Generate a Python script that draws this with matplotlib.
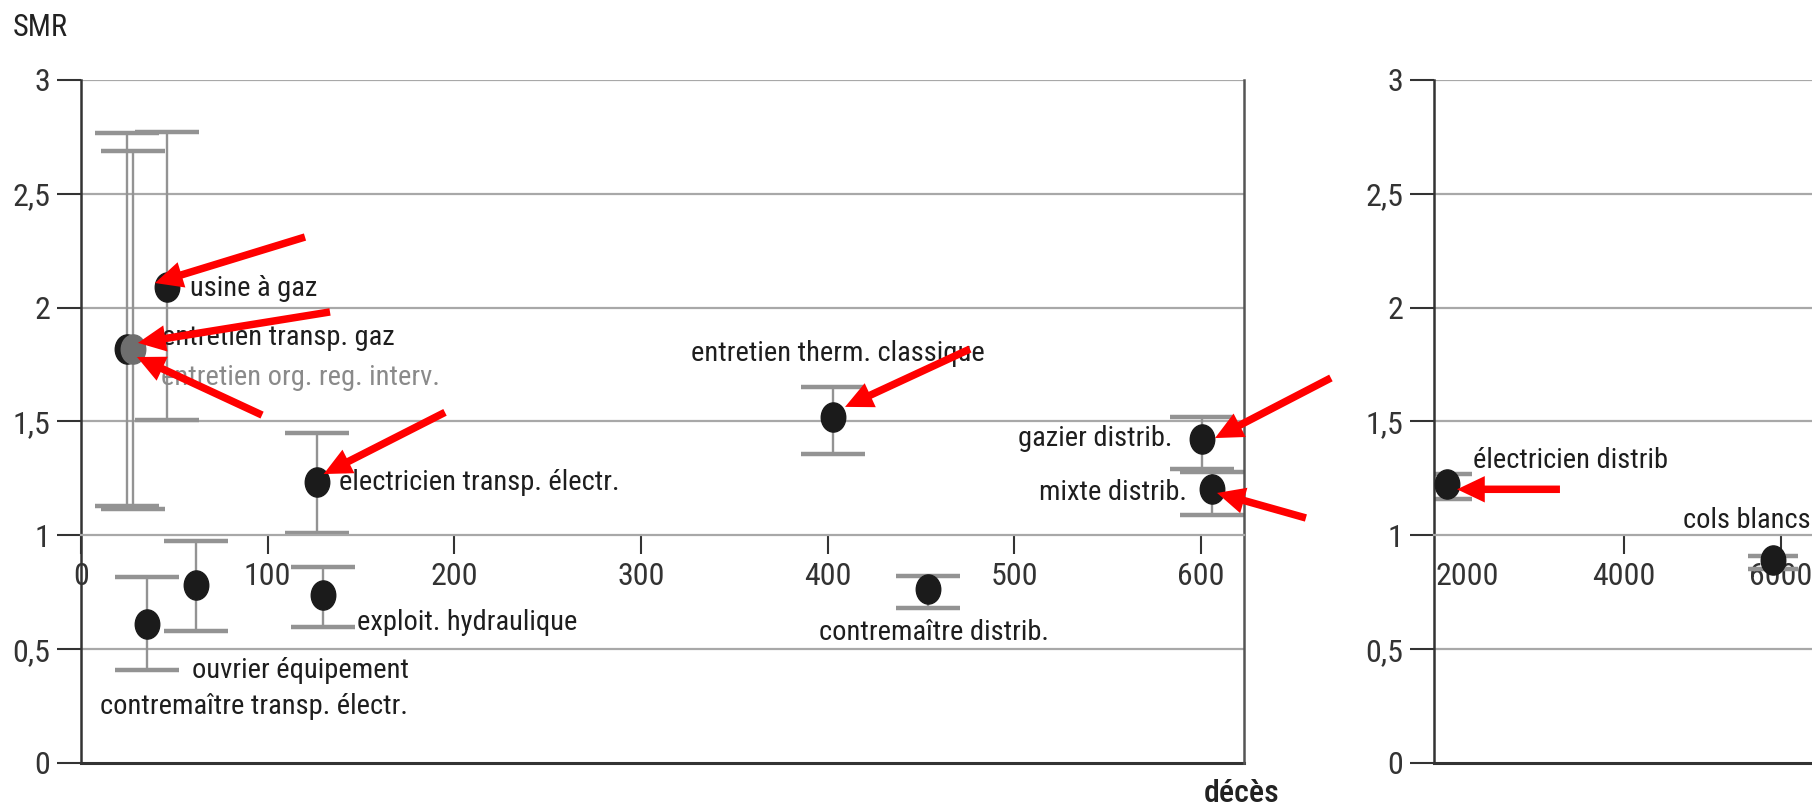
import matplotlib
matplotlib.use("Agg")
import matplotlib.pyplot as plt
from matplotlib import font_manager
from matplotlib.markers import MarkerStyle
from matplotlib.transforms import Affine2D

installed = {f.name for f in font_manager.fontManager.ttflist}
narrow = [f for f in ["Roboto Condensed", "Open Sans Condensed", "Liberation Sans Narrow",
                      "Arial Narrow", "Roboto"] if f in installed]
plt.rcParams["font.family"] = narrow + ["DejaVu Sans"]

# ---- left panel : occupations with few deaths ----
names = [
    "usine à gaz", "entretien transp. gaz", "entretien org. reg. interv.",
    "électricien transp. électr.", "ouvrier équipement", "contremaître transp. électr.",
    "exploit. hydraulique", "entretien therm. classique", "contremaître distrib.",
    "gazier distrib.", "mixte distrib.",
]
deaths = [46, 24.8, 27.8, 126.6, 35.3, 61.5, 129.7, 403, 454, 600.3, 605.8]
smr = [2.09, 1.82, 1.82, 1.235, 0.61, 0.78, 0.738, 1.52, 0.764, 1.423, 1.203]
ci_low = [1.506, 1.128, 1.116, 1.01, 0.408, 0.58, 0.598, 1.357, 0.68, 1.29, 1.09]
ci_high = [2.77, 2.767, 2.69, 1.449, 0.817, 0.975, 0.862, 1.65, 0.82, 1.52, 1.28]

# ---- right panel : large groups ----
names_r = ["électricien distrib", "cols blancs"]
deaths_r = [1745, 5900]
smr_r = [1.224, 0.89]
ci_low_r = [1.16, 0.85]
ci_high_r = [1.27, 0.91]

y_ticks = [0, 0.5, 1, 1.5, 2, 2.5, 3]
y_ticklabels = ["0", "0,5", "1", "1,5", "2", "2,5", "3"]
x_ticks = [0, 100, 200, 300, 400, 500, 600]
x_ticks_r = [2000, 4000, 6000]

# label placement (data coords) and alignment
label_x = [58.4, 43.4, 43.1, 138.2, 59.5, 10.2, 147.9, 327, 395.6, 584.5, 592.5]
label_y = [2.086, 1.867, 1.691, 1.234, 0.408, 0.246, 0.615, 1.80, 0.571, 1.427, 1.186]
label_ha = ["left"] * 9 + ["right", "right"]
label_col = ["#1e1e1e", "#1e1e1e", "#8a8a8a"] + ["#1e1e1e"] * 8
label_x_r = [2077, 4752]
label_y_r = [1.33, 1.066]

# red arrows : (tail, tip) in data coords
arrows = [
    ((120.0, 2.310), (39.6, 2.108)),
    ((133.4, 1.981), (30.5, 1.845)),
    ((97.0, 1.528), (30.0, 1.783)),
    ((195.0, 1.540), (130.0, 1.269)),
    ((476.2, 1.818), (409.3, 1.564)),
    ((669.6, 1.691), (607.5, 1.427)),
    ((656.2, 1.076), (608.6, 1.186)),
]
arrows_r = [((3185, 1.202), (1873, 1.202))]

GRID = "#a8a8a8"
DARK = "#333333"
BAR = "#939393"
TICK_FS = 23
LABEL_FS = 20.5

marker = MarkerStyle("o", transform=Affine2D().scale(0.84, 1.0))
arrow_style = "simple,head_length=1.0,head_width=0.95,tail_width=0.27"


def style_axes(ax, xlim):
    ax.set_xlim(*xlim)
    ax.set_ylim(0, 3)
    ax.set_yticks(y_ticks)
    ax.set_yticklabels(y_ticklabels)
    for y in [0.5, 1.5, 2, 2.5, 3]:
        ax.axhline(y, color=GRID, lw=1.6, zorder=0)
    ax.axhline(0, color=DARK, lw=2.2, zorder=1, clip_on=False)
    ax.spines["bottom"].set_position(("data", 1))
    ax.spines["bottom"].set_color(GRID)
    ax.spines["bottom"].set_linewidth(1.6)
    ax.spines["top"].set_visible(False)
    ax.spines["left"].set_color(DARK)
    ax.spines["left"].set_linewidth(1.8)
    ax.tick_params(axis="y", direction="out", length=17, width=1.5, color=DARK,
                   labelsize=TICK_FS, labelcolor=DARK, pad=5)
    ax.tick_params(axis="x", direction="out", length=14, width=1.5, color=DARK,
                   labelsize=TICK_FS, labelcolor=DARK, pad=5)


def draw_points(ax, xs, ys, lo, hi, colors, capsize):
    yerr = [[y - l for y, l in zip(ys, lo)], [h - y for y, h in zip(ys, hi)]]
    ax.errorbar(xs, ys, yerr=yerr, fmt="none", ecolor=BAR, elinewidth=1.7,
                capsize=capsize, capthick=3.2, zorder=2)
    for x, y, c in zip(xs, ys, colors):
        ax.plot(x, y, linestyle="none", marker=marker, markersize=21,
                color=c, zorder=3)


fig = plt.figure(figsize=(18.12, 8.09), dpi=100)

ax = fig.add_axes([0.0447, 0.0569, 0.6418, 0.8443])
style_axes(ax, (0, 623))
ax.set_xticks(x_ticks)
ax.spines["right"].set_color("#555555")
ax.spines["right"].set_linewidth(1.8)

point_colors = ["#1b1b1b", "#1b1b1b", "#6e6e6e"] + ["#1b1b1b"] * 8
draw_points(ax, deaths, smr, ci_low, ci_high, point_colors, 23)

for name, lx, ly, ha, col in zip(names, label_x, label_y, label_ha, label_col):
    ax.text(lx, ly, name, ha=ha, va="center", fontsize=LABEL_FS, color=col, zorder=4)

for tail, tip in arrows:
    ax.annotate("", xy=tip, xytext=tail, annotation_clip=False, zorder=5,
                arrowprops=dict(arrowstyle=arrow_style, color="red", lw=0,
                                shrinkA=0, shrinkB=0, mutation_scale=20))

# right panel runs past the figure edge, like the cropped original
ax_r = fig.add_axes([0.7914, 0.0569, 0.278, 0.8443])
style_axes(ax_r, (1580, 8000))
ax_r.set_xticks(x_ticks_r)
ax_r.spines["right"].set_visible(False)
ax_r.xaxis.get_major_ticks()[0].tick1line.set_visible(False)

draw_points(ax_r, deaths_r, smr_r, ci_low_r, ci_high_r, ["#1b1b1b"] * 2, 18)
for name, lx, ly in zip(names_r, label_x_r, label_y_r):
    ax_r.text(lx, ly, name, ha="left", va="center", fontsize=LABEL_FS, color="#1e1e1e", zorder=4)
for tail, tip in arrows_r:
    ax_r.annotate("", xy=tip, xytext=tail, annotation_clip=False, zorder=5,
                  arrowprops=dict(arrowstyle=arrow_style, color="red", lw=0,
                                  shrinkA=0, shrinkB=0, mutation_scale=20))

fig.text(13 / 1812, 1 - 27 / 809, "SMR", ha="left", va="center", fontsize=22, color="#222222")
fig.text(1242 / 1812, 1 - 793 / 809, "décès", ha="center", va="center", fontsize=23,
         color="#222222", fontweight="medium")

fig.savefig("out.png", dpi=100)
